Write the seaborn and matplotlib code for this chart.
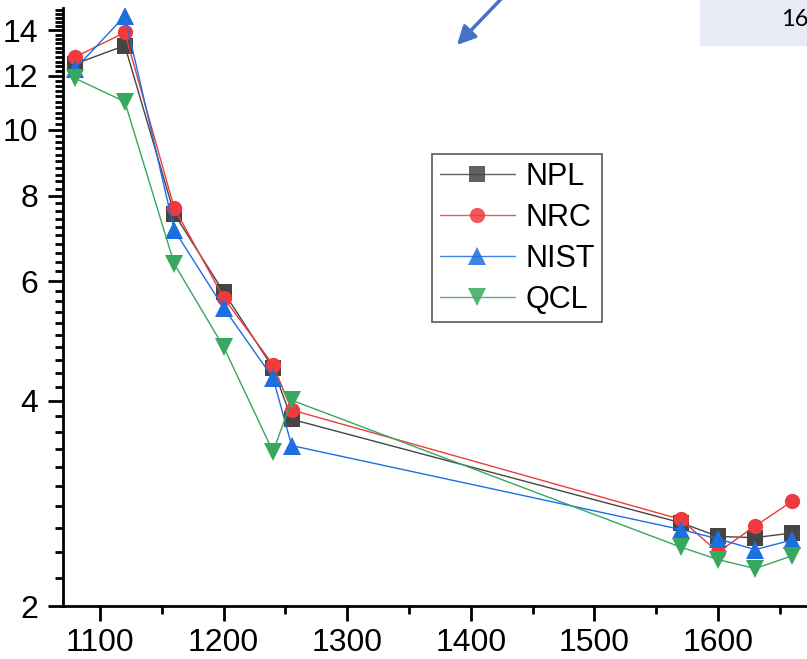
import numpy as np
import pandas as pd
import matplotlib
matplotlib.use('Agg')
import matplotlib.pyplot as plt
import seaborn as sns
from matplotlib.ticker import FixedLocator, MultipleLocator, NullFormatter, FuncFormatter
from matplotlib.patches import Rectangle

# ── Data ─────────────────────────────────────────────────────────────────────
wavelength = [1080, 1120, 1160, 1200, 1240, 1255, 1570, 1600, 1630, 1660]
npl  = [12.5, 13.3, 7.53, 5.78, 4.47, 3.76, 2.65, 2.53, 2.52, 2.56]
nrc  = [12.8, 13.9, 7.68, 5.67, 4.52, 3.88, 2.68, 2.40, 2.62, 2.85]
nist = [12.3, 14.7, 7.13, 5.48, 4.32, 3.44, 2.59, 2.51, 2.42, 2.50]
qcl  = [11.9, 11.0, 6.36, 4.80, 3.37, 4.01, 2.44, 2.34, 2.27, 2.37]
labels = ['NPL', 'NRC', 'NIST', 'QCL']
y_ticks = [2, 4, 6, 8, 10, 12, 14]
x_ticks = [1100, 1200, 1300, 1400, 1500, 1600]

colors = {'NPL': '#454545', 'NRC': '#ee3b3d', 'NIST': '#1d6ee0', 'QCL': '#37a85e'}
markers = {'NPL': 's', 'NRC': 'o', 'NIST': '^', 'QCL': 'v'}

df = pd.concat([pd.DataFrame({'wl': wavelength, 'val': v, 'lab': lab})
                for lab, v in zip(labels, [npl, nrc, nist, qcl])], ignore_index=True)

sns.set_style('ticks')
plt.rcParams['font.family'] = ['Liberation Sans', 'DejaVu Sans']
plt.rcParams['text.color'] = 'black'
plt.rcParams['axes.edgecolor'] = 'black'
plt.rcParams['xtick.color'] = 'black'
plt.rcParams['ytick.color'] = 'black'

fig = plt.figure(figsize=(8.07, 6.59), dpi=100)
ax = fig.add_axes([63/807, 53/659, 1 - 63/807, (606 - 8)/659])

for lab in labels:
    sub = df[df.lab == lab]
    ms = 12.5 if lab in ('NIST', 'QCL') else 11
    sns.lineplot(data=sub, x='wl', y='val', ax=ax, color=colors[lab],
                 marker=markers[lab], markersize=ms, markeredgewidth=0,
                 linewidth=1, label=lab, sort=False)

ax.set_yscale('log')
ax.set_xlim(1070, 1672)
ax.set_ylim(2, 15.1)

ax.yaxis.set_major_locator(FixedLocator(y_ticks))
ax.yaxis.set_major_formatter(FuncFormatter(lambda v, p: f'{v:g}'))
ax.yaxis.set_minor_locator(MultipleLocator(0.2))
ax.yaxis.set_minor_formatter(NullFormatter())
ax.xaxis.set_major_locator(FixedLocator(x_ticks))
ax.xaxis.set_minor_locator(MultipleLocator(50))

ax.tick_params(which='major', direction='out', length=11, width=2, labelsize=23,
               labelcolor='black')
ax.tick_params(axis='x', which='major', pad=5)
ax.tick_params(axis='y', which='major', pad=7)
ax.tick_params(which='minor', direction='out', length=6, width=2)
for side in ('top', 'right'):
    ax.spines[side].set_visible(False)
for side in ('left', 'bottom'):
    ax.spines[side].set_linewidth(2)
ax.set_xlabel('')
ax.set_ylabel('')

leg = ax.legend(loc='upper left', bbox_to_anchor=(0.496, 0.756), borderaxespad=0,
                fontsize=22, frameon=True, fancybox=False, edgecolor='#404040',
                handlelength=2.45, labelspacing=0.36, borderpad=0.25,
                handletextpad=0.35)
leg.get_frame().set_linewidth(1.3)
for h in leg.legend_handles:
    h.set_alpha(0.85)

# annotation bits cut by the crop
ax.annotate('', xy=(455, 612), xytext=(503, 662), xycoords='figure pixels',
            textcoords='figure pixels',
            arrowprops=dict(arrowstyle='-|>,head_length=1.1,head_width=0.55',
                            color='#4472c4', lw=2.5))
fig.patches.append(Rectangle((700/807, (659 - 45)/659), 107/807, 45/659,
                             transform=fig.transFigure, color='#e8ebf5', zorder=0))
fig.text(781/807, 1 - 20/659, '16', fontsize=17, va='center', ha='left',
         family=['Lato', 'DejaVu Sans'])

fig.savefig('out.png', dpi=100)
